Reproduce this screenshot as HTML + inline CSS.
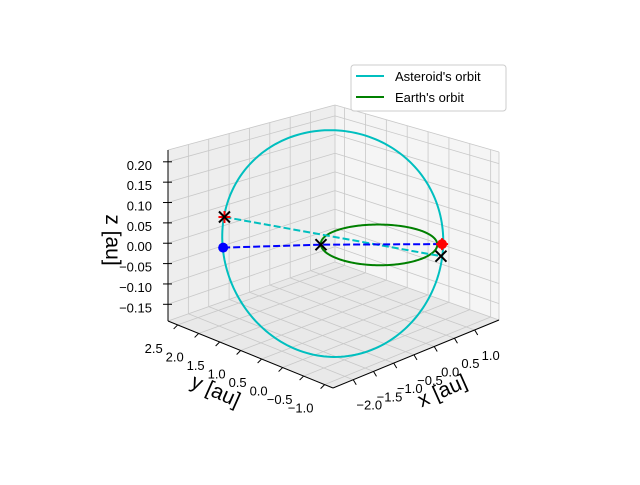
<!DOCTYPE html>
<html><head><meta charset="utf-8"><style>
body{margin:0;background:#fff;}
svg text{font-family:"Liberation Sans","DejaVu Sans",sans-serif;}
</style></head><body>
<svg id="chart" width="640" height="480" viewBox="0 0 640 480" xmlns="http://www.w3.org/2000/svg">
<rect width="640" height="480" fill="#fff"/>
<g id="panes"></g>
<g id="grid"></g>
<g id="axes"></g>
<g id="series"></g>
<text x="0" y="0" font-size="21" text-anchor="middle" transform="translate(106,240) rotate(90)">z [au]</text>
<text x="0" y="0" font-size="21" text-anchor="middle" transform="translate(213,397) rotate(24)">y [au]</text>
<text x="0" y="0" font-size="21" text-anchor="middle" transform="translate(445,397) rotate(-24)">x [au]</text>
<g>
<rect x="351" y="65" width="155" height="46" rx="3" fill="#fff" fill-opacity="0.8" stroke="#ccc"/>
<line x1="356" y1="76" x2="384" y2="76" stroke="#00bfbf" stroke-width="2"/>
<text x="395" y="81" font-size="13">Asteroid's orbit</text>
<line x1="356" y1="97" x2="384" y2="97" stroke="#008000" stroke-width="2"/>
<text x="395" y="102" font-size="13">Earth's orbit</text>
</g>
</svg>
<script>
const xLim=[-2.5,1.6];
const yLim=[-1.2,2.73];
const zLim=[-0.191,0.229];
const xTicks=[-2.0,-1.5,-1.0,-0.5,0.0,0.5,1.0];
const yTicks=[-1.0,-0.5,0.0,0.5,1.0,1.5,2.0,2.5];
const zTicks=[-0.15,-0.10,-0.05,0.00,0.05,0.10,0.15,0.20];
const xTickLabels=["\u22122.0","\u22121.5","\u22121.0","\u22120.5","0.0","0.5","1.0"];
const yTickLabels=["\u22121.0","\u22120.5","0.0","0.5","1.0","1.5","2.0","2.5"];
const zTickLabels=["\u22120.15","\u22120.10","\u22120.05","0.00","0.05","0.10","0.15","0.20"];
const earthCenter=[-0.06,0.06,0.015];
const earthRadius=[1.0];
const asteroidCenter=[-0.57,0.67,0.022];
const asteroidAxisA=[-1.34,1.34,0.0];
const asteroidAxisB=[1.0,1.0,0.21];
const blueLineX=[-1.98,-0.78,0.71];
const blueLineY=[1.92,0.75,-0.70];
const blueLineZ=[0.004,0.015,0.015];
const cyanLineX=[-1.68,0.60];
const cyanLineY=[2.18,-0.78];
const cyanLineZ=[0.06,-0.008];

const NS="http://www.w3.org/2000/svg";
const F=[333,388],R=[499,320],L=[168,321],B=[335,262];
const hF=180,hR=168,hL=171,hB=157;
function proj(x,y,z){
  const a=(x-xLim[0])/(xLim[1]-xLim[0]);
  const b=(y-yLim[0])/(yLim[1]-yLim[0]);
  const c=(z-zLim[0])/(zLim[1]-zLim[0]);
  const w1=(1-a)*(1-b),w2=a*(1-b),w3=(1-a)*b,w4=a*b;
  const px=F[0]*w1+R[0]*w2+L[0]*w3+B[0]*w4;
  const py=F[1]*w1+R[1]*w2+L[1]*w3+B[1]*w4;
  const h=hF*w1+hR*w2+hL*w3+hB*w4;
  return [px,py-h*c];
}
function mk(tag,attrs,parent){const e=document.createElementNS(NS,tag);for(const k in attrs)e.setAttribute(k,attrs[k]);parent.appendChild(e);return e;}
function pts(arr){return arr.map(p=>p[0].toFixed(2)+","+p[1].toFixed(2)).join(" ");}
const panes=document.getElementById('panes'),grid=document.getElementById('grid'),axes=document.getElementById('axes'),series=document.getElementById('series');
const [x0,x1]=xLim,[y0,y1]=yLim,[z0,z1]=zLim;
let e;
e=mk('polygon',{points:pts([proj(x0,y0,z0),proj(x1,y0,z0),proj(x1,y1,z0),proj(x0,y1,z0)]),fill:'#e9e9e9'},panes);


e=mk('polygon',{points:pts([proj(x0,y1,z0),proj(x1,y1,z0),proj(x1,y1,z1),proj(x0,y1,z1)]),fill:'#eeeeee'},panes);


e=mk('polygon',{points:pts([proj(x1,y0,z0),proj(x1,y1,z0),proj(x1,y1,z1),proj(x1,y0,z1)]),fill:'#f5f5f5'},panes);


function gl(p,q,name){const l=mk('line',{x1:p[0],y1:p[1],x2:q[0],y2:q[1],stroke:'#c8c8c8','stroke-width':0.8},grid);

}
xTicks.forEach(v=>{gl(proj(v,y0,z0),proj(v,y1,z0),'floor-grid-x');gl(proj(v,y1,z0),proj(v,y1,z1),'pane-grid-x');});
yTicks.forEach(v=>{gl(proj(x0,v,z0),proj(x1,v,z0),'floor-grid-y');gl(proj(x1,v,z0),proj(x1,v,z1),'pane-grid-y');});
zTicks.forEach(v=>{gl(proj(x0,y1,v),proj(x1,y1,v),'pane-grid-z');gl(proj(x1,y0,v),proj(x1,y1,v),'pane-grid-z');});
[[proj(x1,y1,z0),proj(x1,y1,z1)],[proj(x0,y1,z1),proj(x1,y1,z1)],[proj(x1,y0,z1),proj(x1,y1,z1)],[proj(x1,y1,z0),proj(x0,y1,z0)],[proj(x1,y1,z0),proj(x1,y0,z0)],[proj(x1,y0,z0),proj(x1,y0,z1)]].forEach(s=>gl(s[0],s[1],'pane-edge'));
function ax(p,q,name){const l=mk('line',{x1:p[0],y1:p[1],x2:q[0],y2:q[1],stroke:'#000','stroke-width':1},axes);

}
ax(proj(x0,y0,z0),proj(x1,y0,z0),'x-axis-line');
ax(proj(x0,y0,z0),proj(x0,y1,z0),'y-axis-line');
ax(proj(x0,y1,z0),proj(x0,y1,z1),'z-axis-line');
function tl(x,y,s,anchor,name){const t=mk('text',{x:x,y:y,'font-size':13,'text-anchor':anchor},axes);t.textContent=s;

}
xTicks.forEach((v,i)=>{const p=proj(v,y0,z0);ax(p,[p[0]+3,p[1]+5],'x-tick');tl(p[0]+16,p[1]+30,xTickLabels[i],'middle','x-tick-label');});
yTicks.forEach((v,i)=>{const p=proj(x0,v,z0);ax(p,[p[0]-4,p[1]+4],'y-tick');tl(p[0]-24,p[1]+28,yTickLabels[i],'middle','y-tick-label');});
zTicks.forEach((v,i)=>{const p=proj(x0,y1,v);ax([p[0]-5,p[1]],[p[0]+4,p[1]],'z-tick');tl(p[0]-16,p[1]+8,zTickLabels[i],'end','z-tick-label');});
function ellipse(c,A,Bv){const out=[];for(let k=0;k<=200;k++){const t=k/200*2*Math.PI;out.push(proj(c[0]+A[0]*Math.cos(t)+Bv[0]*Math.sin(t),c[1]+A[1]*Math.cos(t)+Bv[1]*Math.sin(t),c[2]+A[2]*Math.cos(t)+Bv[2]*Math.sin(t)));}return out;}
e=mk('polyline',{points:pts(ellipse(asteroidCenter,asteroidAxisA,asteroidAxisB)),fill:'none',stroke:'#00bfbf','stroke-width':2},series);


e=mk('polyline',{points:pts(ellipse(earthCenter,[earthRadius[0],0,0],[0,earthRadius[0],0])),fill:'none',stroke:'#008000','stroke-width':2},series);


const cyanPts=cyanLineX.map((v,i)=>proj(v,cyanLineY[i],cyanLineZ[i]));
e=mk('polyline',{points:pts(cyanPts),fill:'none',stroke:'#00bfbf','stroke-width':2,'stroke-dasharray':'7,3'},series);


const bluePts=blueLineX.map((v,i)=>proj(v,blueLineY[i],blueLineZ[i]));
e=mk('polyline',{points:pts(bluePts),fill:'none',stroke:'#0000ff','stroke-width':2,'stroke-dasharray':'7,3'},series);


function cross(p,color,name){const g=mk('g',{stroke:color,'stroke-width':2},series);


mk('line',{x1:p[0]-5.5,y1:p[1]-5.5,x2:p[0]+5.5,y2:p[1]+5.5},g);mk('line',{x1:p[0]-5.5,y1:p[1]+5.5,x2:p[0]+5.5,y2:p[1]-5.5},g);}
function plus(p,color,name){const g=mk('g',{stroke:color,'stroke-width':2},series);


mk('line',{x1:p[0]-6,y1:p[1],x2:p[0]+6,y2:p[1]},g);mk('line',{x1:p[0],y1:p[1]-6,x2:p[0],y2:p[1]+6},g);}
e=mk('circle',{cx:bluePts[0][0],cy:bluePts[0][1],r:5,fill:'#0000ff'},series);


e=mk('circle',{cx:bluePts[2][0],cy:bluePts[2][1],r:5,fill:'#ff0000'},series);


plus(bluePts[2],'#ff0000','earth-plus-marker');
plus(cyanPts[0],'#ff0000','asteroid-plus-marker');
cross(cyanPts[0],'#000','asteroid-x-marker');
cross(bluePts[1],'#000','earth-x-marker');
cross(cyanPts[1],'#000','asteroid-end-x-marker');
</script>
</body></html>
